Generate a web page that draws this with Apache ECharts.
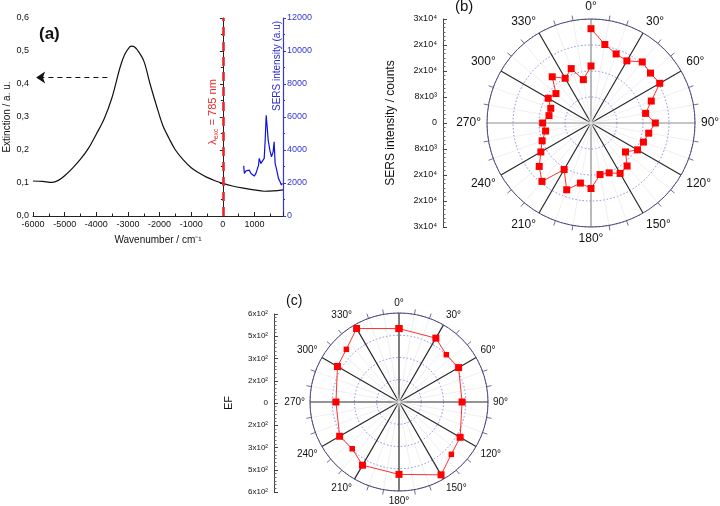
<!DOCTYPE html>
<html><head><meta charset="utf-8">
<script src="https://cdn.jsdelivr.net/npm/echarts@6/dist/echarts.min.js"></script>
<style>html,body{margin:0;padding:0;background:#fff}#c{width:720px;height:506px}</style>
</head><body><div id="c"></div>
<script>
// ---- Panel (a): extinction spectrum (left axis) ----
const extinctionX = [-6000,-5700,-5400,-5200,-5000,-4750,-4500,-4250,-4000,-3750,-3500,-3250,-3100,-2950,-2880,-2800,-2700,-2500,-2300,-2100,-1900,-1700,-1500,-1250,-1000,-750,-500,-250,0,300,600,1000,1300,1600,1900];
const extinctionY = [0.106,0.105,0.102,0.108,0.122,0.145,0.172,0.205,0.248,0.295,0.36,0.45,0.49,0.512,0.515,0.513,0.503,0.47,0.40,0.335,0.275,0.235,0.20,0.17,0.146,0.13,0.117,0.107,0.099,0.091,0.085,0.079,0.075,0.076,0.079];
// ---- Panel (a): SERS spectrum (right axis) ----
const sersX = [658,679,731,784,836,888,940,993,1045,1097,1128,1149,1202,1254,1306,1337,1369,1400,1432,1484,1536,1588,1620,1651,1703,1756,1808,1850,1881];
const sersY = [3044,2580,2740,2620,2780,2580,2680,2420,2580,2480,3085,3490,3185,3225,3490,4600,6110,5400,4600,3990,3590,3890,4500,3185,2780,2280,2080,1875,1980];
const excitationWavenumber = 0;
const arrowFromX = -3650, arrowToX = -5900, arrowLevel = 0.42;
const xAxisRange = [-6000, 1900];
// ---- Panel (b): SERS intensity vs polarisation angle ----
const anglesB = [0,10,20,30,40,50,60,70,80,90,100,110,120,130,140,150,160,170,180,190,200,210,220,230,240,250,260,270,280,290,300,310,320,330,340,350,360];
const intensityB = [27200,23000,21200,20700,23000,22400,22900,18500,16000,18550,16900,16100,15500,13000,16200,16800,15300,15100,18900,17600,20500,15500,22000,19500,16700,15000,13300,13950,12300,12350,14250,13200,17400,14900,16700,12700,16450];
// ---- Panel (c): enhancement factor vs angle ----
const anglesC = [0,30,45,60,90,120,135,150,180,210,225,240,270,300,315,330,360];
const efC = [495,497,451,464,425,476,499,567,488,492,446,462,425,479,502,572,495];

const FONT = 'Liberation Sans, Arial, sans-serif';
const supMap = {2:'²',3:'³',4:'⁴',5:'⁵'};
function sciLabel(v){
  v = Math.abs(v);
  if (v < 1e-9) return '0';
  const e = Math.floor(Math.log10(v) + 1e-9);
  const m = Math.round(v / Math.pow(10, e));
  return m + 'x10' + supMap[e];
}
function plainNum(v){ return String(v); }

const chart = echarts.init(document.getElementById('c'), null, {renderer:'canvas'});

function angleAxisCfg(idx, spokeColors, labelSize, margin){
  return {
    polarIndex: idx, type:'value', min:0, max:360, interval:30, startAngle:90, clockwise:true,
    axisLine:{show:true, lineStyle:{color:'#4a4a78', width:1}},
    axisTick:{show:false},
    minorTick:{show:true, splitNumber:3, length:5, lineStyle:{color:'#4a4a78', width:0.8}},
    axisLabel:{show:true, margin:margin, fontFamily:FONT, fontSize:labelSize, color:'#111',
      formatter:function(v){ return v===360 ? '' : v + '°'; }},
    splitLine:{show:true, lineStyle:{color:spokeColors, width:1.2}},
    minorSplitLine:{show:true, lineStyle:{color:'#e4e4e4', width:0.6}},
    z: 3
  };
}
function radiusAxisCfg(idx, max, interval){
  return {
    polarIndex: idx, type:'value', min:0, max:max, interval:interval,
    axisLine:{show:false}, axisTick:{show:false}, axisLabel:{show:false},
    splitLine:{show:true, lineStyle:{color:'#6a6ad8', type:[1.5,2], width:0.8}}
  };
}

const option = {
  backgroundColor:'#fff',
  animation:false,
  textStyle:{fontFamily:FONT},
  grid:[
    {left:33, top:18, width:250, height:198},
    {left:443, top:19, width:1, height:208},
    {left:274, top:314, width:1, height:178}
  ],
  polar:[
    {center:[591,123], radius:104},
    {center:[399,402], radius:89}
  ],
  xAxis:[
    {gridIndex:0, type:'value', min:xAxisRange[0], max:xAxisRange[1], interval:1000,
     name:'Wavenumber / cm⁻¹', nameLocation:'middle', nameGap:19,
     nameTextStyle:{fontSize:10, color:'#111', fontFamily:FONT},
     axisLine:{onZero:false, lineStyle:{color:'#222', width:1}},
     axisTick:{inside:true, length:4, lineStyle:{color:'#222'}},
     minorTick:{show:true, splitNumber:2, length:2.5, lineStyle:{color:'#222'}},
     axisLabel:{fontSize:9, color:'#111', margin:4, showMaxLabel:false, fontFamily:FONT, formatter:plainNum},
     splitLine:{show:false}},
    {gridIndex:1, type:'value', show:false, min:0, max:1},
    {gridIndex:2, type:'value', show:false, min:0, max:1}
  ],
  yAxis:[
    {gridIndex:0, type:'value', min:0, max:0.6, interval:0.1, position:'left',
     name:'Extinction / a. u.', nameLocation:'middle', nameGap:21,
     nameTextStyle:{fontSize:10, color:'#111', fontFamily:FONT},
     axisLine:{show:true, lineStyle:{color:'#222'}},
     axisTick:{show:true, length:3, lineStyle:{color:'#222'}},
     minorTick:{show:true, splitNumber:2, length:2, lineStyle:{color:'#222'}},
     axisLabel:{fontSize:9, color:'#111', margin:4, fontFamily:FONT,
       formatter:function(v){ return v.toFixed(1).replace('.', ','); }},
     splitLine:{show:false}},
    {gridIndex:0, type:'value', min:0, max:12000, interval:2000, position:'right',
     axisLine:{show:true, lineStyle:{color:'#3535d0', width:1.2}},
     axisTick:{show:true, length:3, lineStyle:{color:'#3535d0'}},
     minorTick:{show:true, splitNumber:2, length:2, lineStyle:{color:'#3535d0'}},
     axisLabel:{fontSize:9, color:'#3535d0', margin:4, fontFamily:FONT, formatter:plainNum},
     splitLine:{show:false}},
    {gridIndex:1, type:'value', min:-30000, max:30000, interval:7500, position:'left',
     name:'SERS intensity / counts', nameLocation:'middle', nameGap:46,
     nameTextStyle:{fontSize:12, color:'#111', fontFamily:FONT},
     axisLine:{show:true, lineStyle:{color:'#444'}},
     axisTick:{show:true, inside:true, length:4, lineStyle:{color:'#444'}},
     minorTick:{show:true, splitNumber:6, length:2.5, lineStyle:{color:'#666'}},
     axisLabel:{fontSize:9, color:'#111', margin:6, fontFamily:FONT, formatter:sciLabel},
     splitLine:{show:false}},
    {gridIndex:2, type:'value', min:-600, max:600, interval:150, position:'left',
     name:'EF', nameLocation:'middle', nameGap:40,
     nameTextStyle:{fontSize:11, color:'#111', fontFamily:FONT},
     axisLine:{show:true, lineStyle:{color:'#444'}},
     axisTick:{show:true, inside:true, length:4, lineStyle:{color:'#444'}},
     minorTick:{show:true, splitNumber:6, length:2.5, lineStyle:{color:'#666'}},
     axisLabel:{fontSize:8, color:'#111', margin:6, fontFamily:FONT, formatter:sciLabel},
     splitLine:{show:false}}
  ],
  angleAxis:[
    angleAxisCfg(0, ['#8c8c8c','#2a2a2a','#2a2a2a'], 12, 6),
    angleAxisCfg(1, ['#2a2a2a'], 10, 5)
  ],
  radiusAxis:[
    radiusAxisCfg(0, 30000, 7500),
    radiusAxisCfg(1, 600, 150)
  ],
  series:[
    {type:'line', xAxisIndex:0, yAxisIndex:0, smooth:0.35, showSymbol:false, symbol:'none',
     data: extinctionX.map(function(x,i){ return [x, extinctionY[i]]; }),
     lineStyle:{color:'#111', width:1.2}, z:3},
    {type:'line', xAxisIndex:0, yAxisIndex:0, showSymbol:false, symbol:'none', data:[],
     markLine:{silent:true, symbol:['none','arrow'], symbolSize:9, label:{show:false},
       lineStyle:{color:'#111', type:[5,4], width:1.2},
       data:[[{coord:[arrowFromX, arrowLevel]}, {coord:[arrowToX, arrowLevel]}]]}},
    {type:'line', xAxisIndex:0, yAxisIndex:0, showSymbol:false, symbol:'none', data:[],
     markLine:{silent:true, symbol:['none','none'], label:{show:false},
       lineStyle:{color:'#e8272a', type:[9,6], width:2.6},
       data:[{xAxis: excitationWavenumber}]}},
    {type:'line', xAxisIndex:0, yAxisIndex:1, showSymbol:false, symbol:'none',
     data: sersX.map(function(x,i){ return [x, sersY[i]]; }),
     lineStyle:{color:'#1010e0', width:1.2}, z:4},
    {type:'line', coordinateSystem:'polar', polarIndex:0, symbol:'rect', symbolSize:7,
     data: anglesB.map(function(a,i){ return [intensityB[i], a]; }),
     lineStyle:{color:'#ff3030', width:1}, itemStyle:{color:'#ff0000'}, z:5},
    {type:'line', coordinateSystem:'polar', polarIndex:1, symbol:'rect',
     symbolSize:function(val){ return val[1] % 30 === 0 ? 7 : 5.5; },
     data: anglesC.map(function(a,i){ return [efC[i], a]; }),
     lineStyle:{color:'#ff3030', width:1}, itemStyle:{color:'#ff0000'}, z:5}
  ],
  graphic:[
    {type:'text', left:39, top:26, style:{text:'(a)', font:'bold 17px ' + FONT, fill:'#111'}},
    {type:'text', left:455, top:-1, style:{text:'(b)', font:'15px ' + FONT, fill:'#111'}},
    {type:'text', left:286, top:294, style:{text:'(c)', font:'14px ' + FONT, fill:'#111'}},
    {type:'text', x:277, y:66, rotation:Math.PI/2,
     style:{text:'SERS intensity (a.u)', font:'10px ' + FONT, fill:'#2a2ad0', align:'center', verticalAlign:'middle'}},
    {type:'text', x:213, y:112, rotation:Math.PI/2,
     style:{text:'λ{sub|exc} = 785 nm', font:'11px ' + FONT, fill:'#e8272a', align:'center', verticalAlign:'middle',
       rich:{sub:{fontSize:7, fill:'#e8272a', padding:[6,0,0,0]}}}}
  ]
};
chart.setOption(option);
</script></body></html>
